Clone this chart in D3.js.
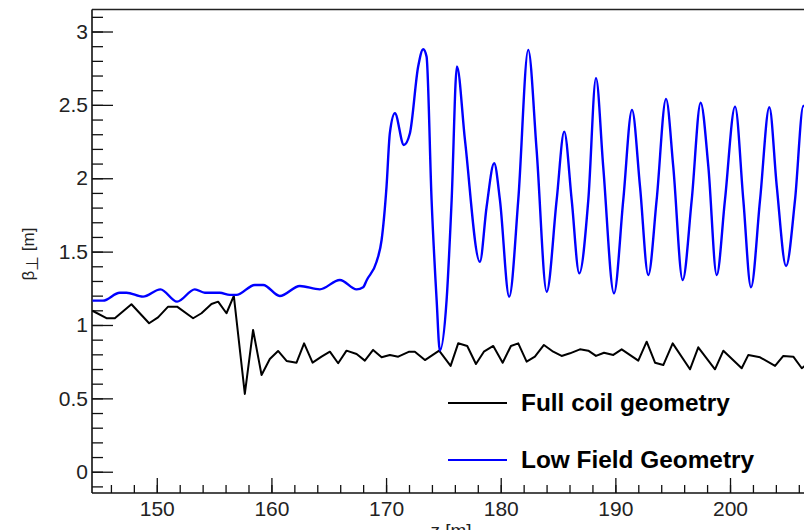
<!DOCTYPE html>
<html>
<head>
<meta charset="utf-8">
<script src="https://cdn.jsdelivr.net/npm/d3@7"></script>
<style>
  body { margin: 0; background: #fff; }
  svg { display: block; }
</style>
</head>
<body>
<div id="chart-area"></div>
<script>
// beta_perp along z, full coil geometry (black)
let zFull = [144.39, 145.61, 146.34, 147.79, 149.33, 150.11, 150.99, 151.77, 153.17, 153.90,
    154.77, 155.35, 156.08, 156.72, 157.68, 158.40, 159.14, 159.86, 160.58, 161.32,
    162.19, 162.85, 163.59, 164.37, 165.10, 165.82, 166.55, 167.43, 168.15, 168.87,
    169.61, 170.33, 171.06, 172.02, 172.51, 173.39, 174.63, 175.63, 176.29, 177.08,
    177.84, 178.53, 179.35, 180.17, 180.89, 181.53, 182.26, 182.98, 183.77, 184.58,
    185.31, 186.04, 186.91, 187.64, 188.31, 189.01, 189.82, 190.55, 192.00, 192.73,
    193.46, 194.18, 195.00, 196.51, 197.23, 198.69, 199.42, 201.02, 201.60, 202.62,
    203.93, 204.65, 205.52, 206.26, 206.98];
let betaFull = [1.097, 1.046, 1.046, 1.141, 1.012, 1.052, 1.125, 1.125, 1.046, 1.080,
    1.143, 1.159, 1.080, 1.198, 0.530, 0.966, 0.659, 0.768, 0.823, 0.755,
    0.743, 0.875, 0.743, 0.784, 0.818, 0.739, 0.825, 0.802, 0.757, 0.830,
    0.780, 0.796, 0.784, 0.818, 0.818, 0.761, 0.825, 0.721, 0.875, 0.857,
    0.734, 0.818, 0.857, 0.743, 0.857, 0.875, 0.750, 0.784, 0.864, 0.818,
    0.789, 0.807, 0.834, 0.825, 0.789, 0.811, 0.796, 0.834, 0.757, 0.886,
    0.743, 0.727, 0.875, 0.698, 0.848, 0.698, 0.825, 0.705, 0.796, 0.780,
    0.721, 0.789, 0.784, 0.705, 0.750];

// beta_perp along z, low field geometry (blue)
let zLow = [144.39, 145.31, 146.77, 147.36, 148.80, 150.32, 151.77, 153.32, 154.19, 155.50,
    156.37, 156.95, 158.55, 159.28, 160.73, 162.48, 164.22, 165.97, 167.43, 168.00,
    168.32, 169.17, 169.61, 170.04, 170.33, 170.77, 171.55, 172.08, 172.80, 173.24,
    173.53, 173.97, 174.41, 174.69, 175.28, 175.72, 176.18, 176.88, 178.18, 178.77,
    179.43, 179.93, 180.74, 181.53, 182.40, 183.13, 184.01, 184.88, 185.54, 186.19,
    186.85, 187.64, 188.31, 188.94, 189.88, 190.69, 191.45, 192.15, 192.87, 193.60,
    194.42, 195.05, 195.87, 196.66, 197.44, 198.11, 198.84, 199.56, 200.44, 201.16,
    201.83, 202.62, 203.43, 204.08, 204.89, 205.67, 206.40, 207.16];
let betaLow = [1.166, 1.166, 1.220, 1.220, 1.193, 1.243, 1.159, 1.243, 1.220, 1.220,
    1.205, 1.205, 1.273, 1.273, 1.198, 1.266, 1.243, 1.307, 1.243, 1.257,
    1.307, 1.431, 1.579, 1.943, 2.307, 2.443, 2.227, 2.307, 2.761, 2.879,
    2.829, 1.852, 1.170, 0.825, 1.170, 1.852, 2.762, 2.261, 1.431, 1.806,
    2.102, 1.852, 1.193, 1.852, 2.875, 2.193, 1.227, 1.852, 2.318, 1.852,
    1.352, 1.852, 2.682, 2.079, 1.216, 1.852, 2.466, 1.943, 1.341, 1.852,
    2.541, 2.079, 1.307, 1.852, 2.515, 2.079, 1.341, 1.852, 2.488, 1.852,
    1.257, 1.852, 2.484, 1.943, 1.402, 1.852, 2.493, 2.190];

let xTicks = [150, 160, 170, 180, 190, 200];
let yTicks = [0, 0.5, 1, 1.5, 2, 2.5, 3];
let xMinor = d3.range(146, 208, 2);
let yMinor = d3.range(-1, 32).map(d => d / 10);
let seriesNames = ["Full coil geometry", "Low Field Geometry"];
let seriesColors = ["#000000", "#0000ff"];

let W = 804, H = 530;
let plotLeft = 92, plotTop = 9.5, plotBottom = 493, plotRight = 816;

let x = d3.scaleLinear().domain([144.35, 207.5]).range([plotLeft, plotRight]);
let y = d3.scaleLinear().domain([-0.145, 3.15]).range([plotBottom, plotTop]);

let svg = d3.select("#chart-area")
    .append("svg")
        .attr("width", W)
        .attr("height", H)
        .style("font-family", "'Liberation Sans', Arial, Helvetica, sans-serif");

svg.append("defs").append("clipPath")
    .attr("id", "plot-clip")
    .append("rect")
        .attr("x", plotLeft)
        .attr("y", plotTop)
        .attr("width", plotRight - plotLeft)
        .attr("height", plotBottom - plotTop);

// frame (top edge)
svg.append("line")
    .attr("x1", plotLeft).attr("x2", plotRight)
    .attr("y1", plotTop).attr("y2", plotTop)
    .attr("stroke", "#222")
    .attr("stroke-width", 1.6);

// minor ticks
svg.append("g")
    .attr("transform", "translate(" + plotLeft + ",0)")
    .call(d3.axisLeft(y).tickValues(yMinor).tickSize(-11).tickFormat(""))
    .call(g => g.select(".domain").remove());

svg.append("g")
    .attr("transform", "translate(0," + plotBottom + ")")
    .call(d3.axisBottom(x).tickValues(xMinor).tickSize(-8).tickFormat(""))
    .call(g => g.select(".domain").remove());

// major axes
let yAxisGroup = svg.append("g")
    .attr("class", "y-axis")
    .attr("transform", "translate(" + plotLeft + ",0)")
    .call(d3.axisLeft(y).tickValues(yTicks).tickSize(-21).tickPadding(4)
        .tickFormat(d3.format("~g")))
    .call(g => g.select(".domain").attr("d", "M0," + plotTop + "V" + plotBottom));

let xAxisGroup = svg.append("g")
    .attr("class", "x-axis")
    .attr("transform", "translate(0," + plotBottom + ")")
    .call(d3.axisBottom(x).tickValues(xTicks).tickSize(-15).tickPadding(8)
        .tickFormat(d3.format("d")))
    .call(g => g.select(".domain").attr("d", "M" + plotLeft + ",0H" + plotRight));

svg.selectAll(".tick line").attr("stroke", "#111").attr("stroke-width", 1.3);
svg.selectAll(".domain").attr("stroke", "#111").attr("stroke-width", 1.6);
svg.selectAll(".tick text")
    .attr("font-family", "'Liberation Sans', Arial, Helvetica, sans-serif")
    .attr("font-size", "21px")
    .attr("fill", "#222");

// data lines
let plot = svg.append("g").attr("clip-path", "url(#plot-clip)");

let fullData = zFull.map((z, i) => ({z: z, b: betaFull[i]}));
let lowData = zLow.map((z, i) => ({z: z, b: betaLow[i]}));

plot.append("path")
    .datum(fullData)
    .attr("fill", "none")
    .attr("stroke", seriesColors[0])
    .attr("stroke-width", 2)
    .attr("stroke-linejoin", "round")
    .attr("d", d3.line().x(d => x(d.z)).y(d => y(d.b)));

plot.append("path")
    .datum(lowData)
    .attr("fill", "none")
    .attr("stroke", seriesColors[1])
    .attr("stroke-width", 2.4)
    .attr("stroke-linejoin", "round")
    .attr("d", d3.line().curve(d3.curveMonotoneX).x(d => x(d.z)).y(d => y(d.b)));

// legend
let legend = svg.append("g").attr("class", "legend");
seriesNames.forEach((name, i) => {
    let ly = 403 + i * 57;
    legend.append("line")
        .attr("x1", 448).attr("x2", 507)
        .attr("y1", ly).attr("y2", ly)
        .attr("stroke", seriesColors[i])
        .attr("stroke-width", 2);
    legend.append("text")
        .attr("x", 521)
        .attr("y", ly + 8)
        .attr("font-size", "24.4px")
        .attr("font-weight", "bold")
        .attr("fill", "#000")
        .text(name);
});

// axis titles
let yLabel = svg.append("text")
    .attr("transform", "translate(34,254) rotate(-90)")
    .attr("text-anchor", "middle")
    .attr("font-size", "17px")
    .attr("fill", "#222");
yLabel.append("tspan").text("β");
yLabel.append("tspan")
    .attr("font-family", "'DejaVu Sans', sans-serif")
    .attr("font-size", "17px")
    .attr("dy", "4")
    .text("⊥");
yLabel.append("tspan").attr("dy", "-4").text(" [m]");

// x title sits partly below the canvas edge, as in the reference
svg.append("text")
    .attr("x", 451)
    .attr("y", 537)
    .attr("text-anchor", "middle")
    .attr("font-size", "19px")
    .attr("fill", "#222")
    .text("z [m]");
</script>
</body>
</html>
